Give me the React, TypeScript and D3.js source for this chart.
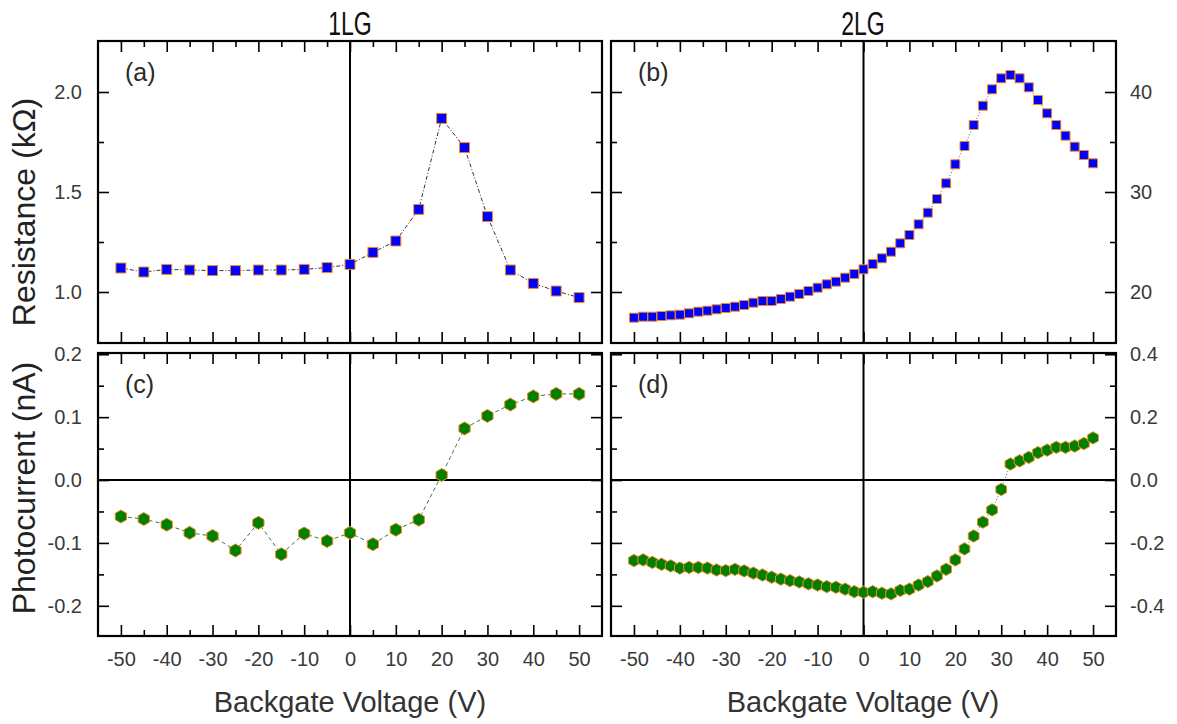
import React, { useEffect, useRef } from 'react';
import * as d3 from 'd3';

// gate voltage (V)
const gateA = [-50, -45, -40, -35, -30, -25, -20, -15, -10, -5, 0, 5, 10, 15, 20, 25, 30, 35, 40, 45, 50];
const gateB = [-50, -48, -46, -44, -42, -40, -38, -36, -34, -32, -30, -28, -26, -24, -22, -20, -18, -16, -14, -12, -10, -8, -6, -4, -2,
    0, 2, 4, 6, 8, 10, 12, 14, 16, 18, 20, 22, 24, 26, 28, 30, 32, 34, 36, 38, 40, 42, 44, 46, 48, 50];

// 1LG resistance (kOhm) and photocurrent (nA)
const resistA = [1.12, 1.10, 1.113, 1.11, 1.107, 1.107, 1.11, 1.11, 1.113, 1.122, 1.138, 1.198, 1.255, 1.413, 1.868, 1.722, 1.377, 1.11, 1.043, 1.005, 0.972];
const photoC = [-0.058, -0.062, -0.071, -0.084, -0.089, -0.112, -0.068, -0.118, -0.085, -0.097, -0.084, -0.102, -0.079, -0.063, 0.008, 0.082, 0.102, 0.12, 0.133, 0.137, 0.137];

// 2LG resistance (kOhm) and photocurrent (nA)
const resistB = [17.43, 17.53, 17.53, 17.6, 17.67, 17.73, 17.87, 18.03, 18.13, 18.27, 18.4, 18.53, 18.7, 18.93, 19.1, 19.1, 19.3, 19.53, 19.8, 20.1,
    20.43, 20.77, 21.03, 21.43, 21.8, 22.27, 22.8, 23.37, 24.03, 24.87, 25.7, 26.77, 27.93, 29.3, 30.87, 32.77, 34.6, 36.7, 38.63, 40.27,
    41.37, 41.7, 41.37, 40.47, 39.2, 37.87, 36.7, 35.63, 34.53, 33.7, 32.87];
const photoD = [-0.256, -0.254, -0.262, -0.268, -0.273, -0.28, -0.278, -0.278, -0.28, -0.286, -0.288, -0.284, -0.289, -0.296, -0.302, -0.309,
    -0.315, -0.32, -0.324, -0.33, -0.334, -0.339, -0.341, -0.347, -0.355, -0.357, -0.355, -0.36, -0.362, -0.351, -0.347, -0.334, -0.323,
    -0.305, -0.284, -0.254, -0.219, -0.178, -0.134, -0.095, -0.03, 0.051, 0.061, 0.072, 0.087, 0.095, 0.104, 0.104, 0.108, 0.116, 0.134];

// ticks
const xMajor = [-50, -40, -30, -20, -10, 0, 10, 20, 30, 40, 50];
const xMinor = [-45, -35, -25, -15, -5, 5, 15, 25, 35, 45];
const yMajorA = [1.0, 1.5, 2.0];
const yMinorA = [1.25, 1.75];
const yMajorB = [20, 30, 40];
const yMinorB = [25, 35];
const yMajorC = [-0.2, -0.1, 0.0, 0.1, 0.2];
const yMinorC = [-0.15, -0.05, 0.05, 0.15];
const yMajorD = [-0.4, -0.2, 0.0, 0.2, 0.4];
const yMinorD = [-0.3, -0.1, 0.1, 0.3];

const FONT = 'Liberation Sans, Arial, sans-serif';

const hexagon = {
    draw(context: any, size: number) {
        const r = Math.sqrt(size / 2.6);
        for (let i = 0; i < 6; i++) {
            const a = Math.PI / 6 + i * Math.PI / 3;
            const px = r * Math.cos(a), py = r * Math.sin(a);
            if (i === 0) context.moveTo(px, py); else context.lineTo(px, py);
        }
        context.closePath();
    }
};

export default function App() {
    const ref = useRef<SVGSVGElement>(null);

    useEffect(() => {
        const svg = d3.select(ref.current);
        svg.selectAll('*').remove();

        const panels = [
            { label: '(a)', left: 98, right: 602, top: 41, bottom: 343, yDomain: [0.745, 2.255], gate: gateA, vals: resistA,
              yMajor: yMajorA, yMinor: yMinorA, side: 'left', xLabels: false, zero: false, fmt: (d: number) => d.toFixed(1),
              marker: d3.symbolSquare, size: 100, fill: '#0000ff', line: '#333', dash: '4,2,1,2' },
            { label: '(b)', left: 611, right: 1116, top: 41, bottom: 343, yDomain: [14.9, 45.1], gate: gateB, vals: resistB,
              yMajor: yMajorB, yMinor: yMinorB, side: 'right', xLabels: false, zero: false, fmt: (d: number) => String(d),
              marker: d3.symbolSquare, size: 81, fill: '#0000ff', line: '#4060a0', dash: '1,2' },
            { label: '(c)', left: 98, right: 602, top: 353, bottom: 636, yDomain: [-0.248, 0.202], gate: gateA, vals: photoC,
              yMajor: yMajorC, yMinor: yMinorC, side: 'left', xLabels: true, zero: true, fmt: (d: number) => d.toFixed(1),
              marker: hexagon, size: 110, fill: '#008000', line: '#3a7a3a', dash: '4,3' },
            { label: '(d)', left: 611, right: 1116, top: 353, bottom: 636, yDomain: [-0.496, 0.404], gate: gateB, vals: photoD,
              yMajor: yMajorD, yMinor: yMinorD, side: 'right', xLabels: true, zero: true, fmt: (d: number) => d.toFixed(1),
              marker: hexagon, size: 100, fill: '#008000', line: '#4060a0', dash: '1,2' },
        ];

        panels.forEach(p => {
            const x = d3.scaleLinear().domain([-55, 55]).range([p.left, p.right]);
            const y = d3.scaleLinear().domain(p.yDomain).range([p.bottom, p.top]);
            const g = svg.append('g');

            // zero lines
            g.append('line').attr('x1', x(0)).attr('x2', x(0)).attr('y1', p.top).attr('y2', p.bottom)
                .attr('stroke', '#000').attr('stroke-width', 2);
            if (p.zero) {
                g.append('line').attr('x1', p.left).attr('x2', p.right).attr('y1', y(0)).attr('y2', y(0))
                    .attr('stroke', '#000').attr('stroke-width', 2);
            }

            const styleAxis = (a: any) => {
                a.select('.domain').remove();
                a.selectAll('line').attr('stroke', '#000').attr('stroke-width', 1.6);
                a.attr('font-size', 20).attr('font-family', FONT);
                a.selectAll('text').attr('fill', '#3a3a3a');
            };

            // x axes: bottom and top, majors and minors
            const none = () => '';
            g.append('g').attr('transform', `translate(0,${p.bottom})`)
                .call(d3.axisBottom(x).tickValues(xMajor).tickSize(-11).tickPadding(16)
                    .tickFormat(p.xLabels ? (d: any) => String(d) : none)).call(styleAxis);
            g.append('g').attr('transform', `translate(0,${p.bottom})`)
                .call(d3.axisBottom(x).tickValues(xMinor).tickSize(-6).tickFormat(none)).call(styleAxis);
            g.append('g').attr('transform', `translate(0,${p.top})`)
                .call(d3.axisTop(x).tickValues(xMajor).tickSize(-11).tickFormat(none)).call(styleAxis);
            g.append('g').attr('transform', `translate(0,${p.top})`)
                .call(d3.axisTop(x).tickValues(xMinor).tickSize(-6).tickFormat(none)).call(styleAxis);

            // y axes: labelled side and opposite side
            const lab = p.side === 'left';
            g.append('g').attr('transform', `translate(${p.left},0)`)
                .call(d3.axisLeft(y).tickValues(p.yMajor).tickSize(-11).tickPadding(16)
                    .tickFormat(lab ? (d: any) => p.fmt(d) : none)).call(styleAxis);
            g.append('g').attr('transform', `translate(${p.left},0)`)
                .call(d3.axisLeft(y).tickValues(p.yMinor).tickSize(-6).tickFormat(none)).call(styleAxis);
            g.append('g').attr('transform', `translate(${p.right},0)`)
                .call(d3.axisRight(y).tickValues(p.yMajor).tickSize(-11).tickPadding(14)
                    .tickFormat(!lab ? (d: any) => p.fmt(d) : none)).call(styleAxis);
            g.append('g').attr('transform', `translate(${p.right},0)`)
                .call(d3.axisRight(y).tickValues(p.yMinor).tickSize(-6).tickFormat(none)).call(styleAxis);

            // frame
            g.append('rect').attr('x', p.left).attr('y', p.top).attr('width', p.right - p.left).attr('height', p.bottom - p.top)
                .attr('fill', 'none').attr('stroke', '#000').attr('stroke-width', 2.2);

            // connecting line
            const pts = p.gate.map((v, i) => [v, p.vals[i]] as [number, number]);
            const line = d3.line<[number, number]>().x(d => x(d[0])).y(d => y(d[1]));
            g.append('path').attr('d', line(pts)).attr('fill', 'none').attr('stroke', p.line)
                .attr('stroke-width', 1).attr('stroke-dasharray', p.dash);

            // markers
            const sym = d3.symbol().type(p.marker as any).size(p.size);
            g.selectAll('.pt').data(pts).enter().append('path')
                .attr('transform', d => `translate(${x(d[0])},${y(d[1])})`)
                .attr('d', sym as any)
                .attr('fill', p.fill).attr('stroke', '#f08a24').attr('stroke-width', 1);

            // panel label
            g.append('text').attr('x', p.left + 27).attr('y', p.top + 40).text(p.label)
                .attr('font-family', FONT).attr('font-size', 25).attr('fill', '#2a2a2a');
        });

        // column titles
        [['1LG', 350], ['2LG', 863]].forEach(([t, cx]) => {
            svg.append('g').attr('transform', `translate(${cx},35) scale(0.68,1)`)
                .append('text').attr('text-anchor', 'middle').text(t as string)
                .attr('font-family', FONT).attr('font-size', 34).attr('fill', '#111');
        });

        // x titles
        [350, 863].forEach(cx => {
            svg.append('text').attr('x', cx).attr('y', 712).attr('text-anchor', 'middle')
                .text('Backgate Voltage (V)').attr('font-family', FONT).attr('font-size', 29).attr('fill', '#333');
        });

        // y titles
        [['Resistance (kΩ)', 212], ['Photocurrent (nA)', 488]].forEach(([t, cy]) => {
            svg.append('text').attr('transform', `translate(35,${cy}) rotate(-90)`).attr('text-anchor', 'middle')
                .text(t as string).attr('font-family', FONT).attr('font-size', 32).attr('fill', '#222');
        });
    }, []);

    return (
        <svg ref={ref} width={1177} height={724}
            style={{ position: 'absolute', left: 0, top: 0, background: '#fff' }} />
    );
}
